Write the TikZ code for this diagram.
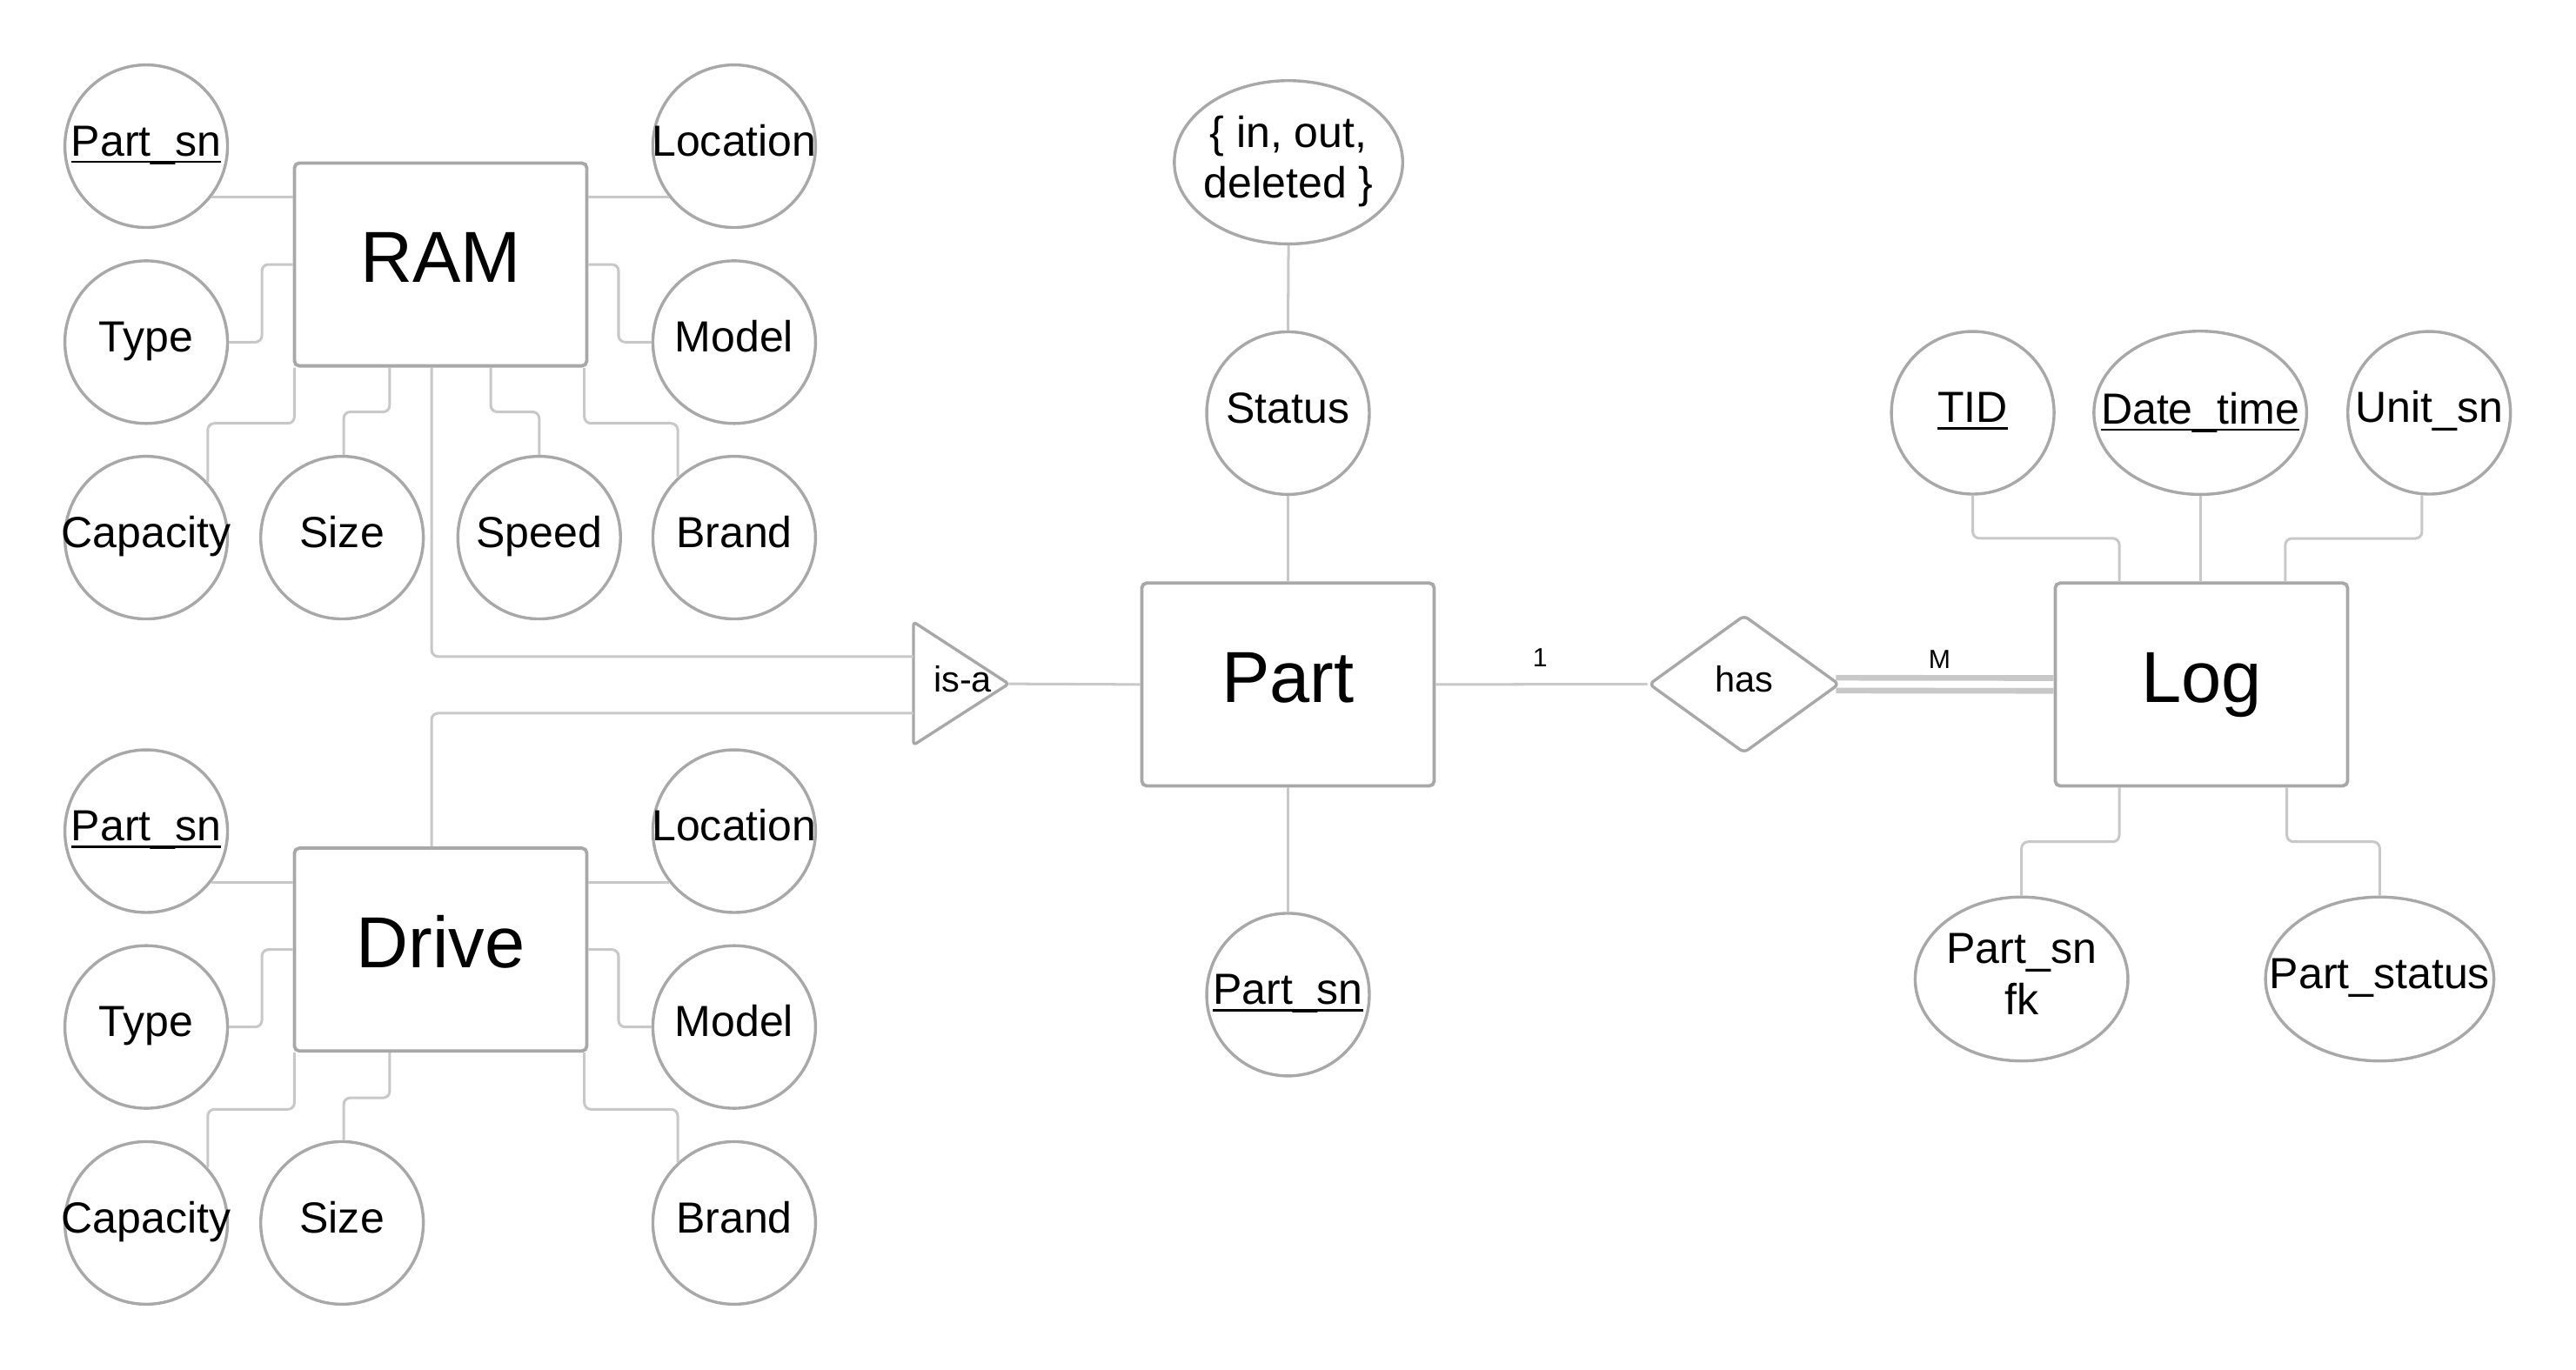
\documentclass[tikz,border=0pt]{standalone}
\usepackage{fontspec}
\setmainfont{Liberation Sans}
\usetikzlibrary{shapes.geometric}
\definecolor{shapegray}{HTML}{A8A8A8}
\definecolor{conngray}{HTML}{C8C8C8}
\newsavebox\ulbox
\newcommand{\ulk}[1]{\sbox\ulbox{#1}\rlap{\rule[-0.155em]{\wd\ulbox}{0.05em}}\usebox\ulbox}
\newcommand{\zt}[1]{\makebox[0pt]{#1}}
\begin{document}
\begin{tikzpicture}[x=1pt,y=-1pt,
  entity/.style={draw=shapegray, line width=2pt, fill=white, rounded corners=3pt,
    minimum width=178pt, minimum height=123.5pt, inner sep=0pt,
    text height=34pt, text depth=12pt, font=\fontsize{44}{50}\selectfont},
  attr/.style={draw=shapegray, line width=1.8pt, fill=white, circle, minimum size=99pt,
    inner sep=0pt, text height=19pt, text depth=7pt, font=\fontsize{26.5}{31}\selectfont},
  eattr/.style={draw=shapegray, line width=1.8pt, fill=white, ellipse, inner sep=0pt,
    font=\fontsize{26.5}{31}\selectfont},
  conn/.style={draw=conngray, line width=1.6pt, rounded corners=4pt},
  rel/.style={draw=shapegray, line width=1.8pt, fill=white, diamond, rounded corners=3pt,
    minimum width=116pt, minimum height=84pt, inner sep=0pt,
    text height=16pt, text depth=7pt, font=\fontsize{22}{26}\selectfont},
  tri/.style={draw=shapegray, line width=1.8pt, fill=white, rounded corners=2pt, line join=round},
  smalltext/.style={inner sep=0pt, text height=16pt, text depth=6pt, font=\fontsize{22}{26}\selectfont},
  card/.style={inner sep=0pt, font=\fontsize{16}{19}\selectfont},
  dbl/.style={draw=conngray, line width=3.5pt},
]
\useasboundingbox (0,0) rectangle (1568,834);

% ---------- RAM ----------
\node[entity] (ram) at (268.2,161) {RAM};
\node[attr] (rpsn)   at (89,89)      {\zt{\ulk{Part\_sn}}};
\node[attr] (rloc)   at (446.9,89)   {\zt{Location}};
\node[attr] (rtype)  at (89,208.3)   {\zt{Type}};
\node[attr] (rmodel) at (446.9,208.3){\zt{Model}};
\node[attr] (rcap)   at (89,327.3)   {\zt{Capacity}};
\node[attr] (rsize)  at (208.2,327.3){\zt{Size}};
\node[attr] (rspeed) at (328.2,327.3){\zt{Speed}};
\node[attr] (rbrand) at (446.9,327.3){\zt{Brand}};

% ---------- Drive ----------
\node[entity] (drive) at (268.2,578.1) {Drive};
\node[attr] (dpsn)   at (89,506)      {\zt{\ulk{Part\_sn}}};
\node[attr] (dloc)   at (446.9,506)   {\zt{Location}};
\node[attr] (dtype)  at (89,625.2)    {\zt{Type}};
\node[attr] (dmodel) at (446.9,625.2) {\zt{Model}};
\node[attr] (dcap)   at (89,744.5)    {\zt{Capacity}};
\node[attr] (dsize)  at (208.2,744.5) {\zt{Size}};
\node[attr] (dbrand) at (446.9,744.5) {\zt{Brand}};

% ---------- is-a ----------
\coordinate (isaA) at (556,378.6);
\coordinate (isaB) at (556,453.6);
\coordinate (isaT) at (614,416.3);
\coordinate (isaL1) at (556,399.7);
\coordinate (isaL2) at (556,434.2);
\draw[tri] (isaA) -- (isaT) -- (isaB) -- cycle;
\node[smalltext] (isa) at (586,416.5) {is-a};

% ---------- Part ----------
\node[entity] (part) at (784,416.7) {Part};
\node[eattr, minimum width=139pt, minimum height=99.4pt] (enum) at (784.3,98.8)
  {\zt{\begin{tabular}{@{}c@{}}\{ in, out,\\deleted \}\end{tabular}}};
\node[attr] (status) at (784,251.5) {\zt{Status}};
\node[attr] (ppsn) at (784,605.5) {\zt{\ulk{Part\_sn}}};

% ---------- has ----------
\node[rel] (has) at (1061.6,416.5) {has};
\node[card] (c1) at (937.5,400.5) {1};
\node[card] (cm) at (1180.6,401.6) {M};

% ---------- Log ----------
\node[entity] (log) at (1340,416.7) {Log};
\node[attr] (tid) at (1200.8,251.3) {\zt{\ulk{TID}}};
\node[eattr, minimum width=129.5pt, minimum height=99.4pt] (dt) at (1339.3,251.3) {\zt{\ulk{Date\_time}}};
\node[attr] (unit) at (1478.6,251.3) {\zt{Unit\_sn}};
\node[eattr, minimum width=129.5pt, minimum height=99.8pt] (psfk) at (1230.5,596)
  {\zt{\begin{tabular}{@{}c@{}}Part\_sn\\fk\end{tabular}}};
\node[eattr, minimum width=139pt, minimum height=99.8pt, text height=19pt, text depth=7pt] (pstat) at (1448.5,596) {\zt{Part\_status}};

% ---------- RAM connectors ----------
\draw[conn] (rpsn.-38.2) -- (rpsn.-38.2 -| ram.west);
\draw[conn] (rloc.218.2) -- (rloc.218.2 -| ram.east);
\draw[conn] (rtype.east) -- ++(20,0) |- (ram.west);
\draw[conn] (rmodel.west) -- ++(-20,0) |- (ram.east);
\draw[conn] ([xshift=1pt]ram.south west) -- ++(0,34) -| (rcap.42);
\draw[conn] ([xshift=59pt]ram.south west) -- ++(0,27) -| ([xshift=1pt]rsize.north);
\draw[conn] ([xshift=120.5pt]ram.south west) -- ++(0,27) -| (rspeed.north);
\draw[conn] ([xshift=-2.5pt]ram.south east) -- ++(0,34) -| (rbrand.133);
\draw[conn] ([xshift=-5.5pt]ram.south) |- (isaL1);

% ---------- Drive connectors ----------
\draw[conn] (dpsn.-38.2) -- (dpsn.-38.2 -| drive.west);
\draw[conn] (dloc.218.2) -- (dloc.218.2 -| drive.east);
\draw[conn] (dtype.east) -- ++(20,0) |- (drive.west);
\draw[conn] (dmodel.west) -- ++(-20,0) |- (drive.east);
\draw[conn] ([xshift=1pt]drive.south west) -- ++(0,34.5) -| (dcap.42);
\draw[conn] ([xshift=59pt]drive.south west) -- ++(0,27.5) -| ([xshift=1pt]dsize.north);
\draw[conn] ([xshift=-2.5pt]drive.south east) -- ++(0,34.5) -| (dbrand.133);
\draw[conn] ([xshift=-5.5pt]drive.north) |- (isaL2);

% ---------- Part connectors ----------
\draw[conn] (enum.south) -- (status.north);
\draw[conn] (status.south) -- (part.north);
\draw[conn] (part.south) -- (ppsn.north);
\draw[conn] (isaT) -- (part.west);
\draw[conn] (part.east) -- (has.west);
\draw[dbl] ([xshift=-3pt,yshift=3.9pt]has.east) -- ([yshift=3.9pt]log.west);
\draw[dbl] ([xshift=-3pt,yshift=-3.9pt]has.east) -- ([yshift=-3.9pt]log.west);

% ---------- Log connectors ----------
\draw[conn] (tid.south) -- ++(0,26) -| ([xshift=40pt]log.north west);
\draw[conn] (dt.south) -- (dt.south |- log.north);
\draw[conn] (unit.265) -- ++(0,26.3) -| ([xshift=-39pt]log.north east);
\draw[conn] ([xshift=40pt]log.south west) -- ++(0,33) -| (psfk.north);
\draw[conn] ([xshift=-38pt]log.south east) -- ++(0,33) -| (pstat.north);
\end{tikzpicture}
\end{document}
